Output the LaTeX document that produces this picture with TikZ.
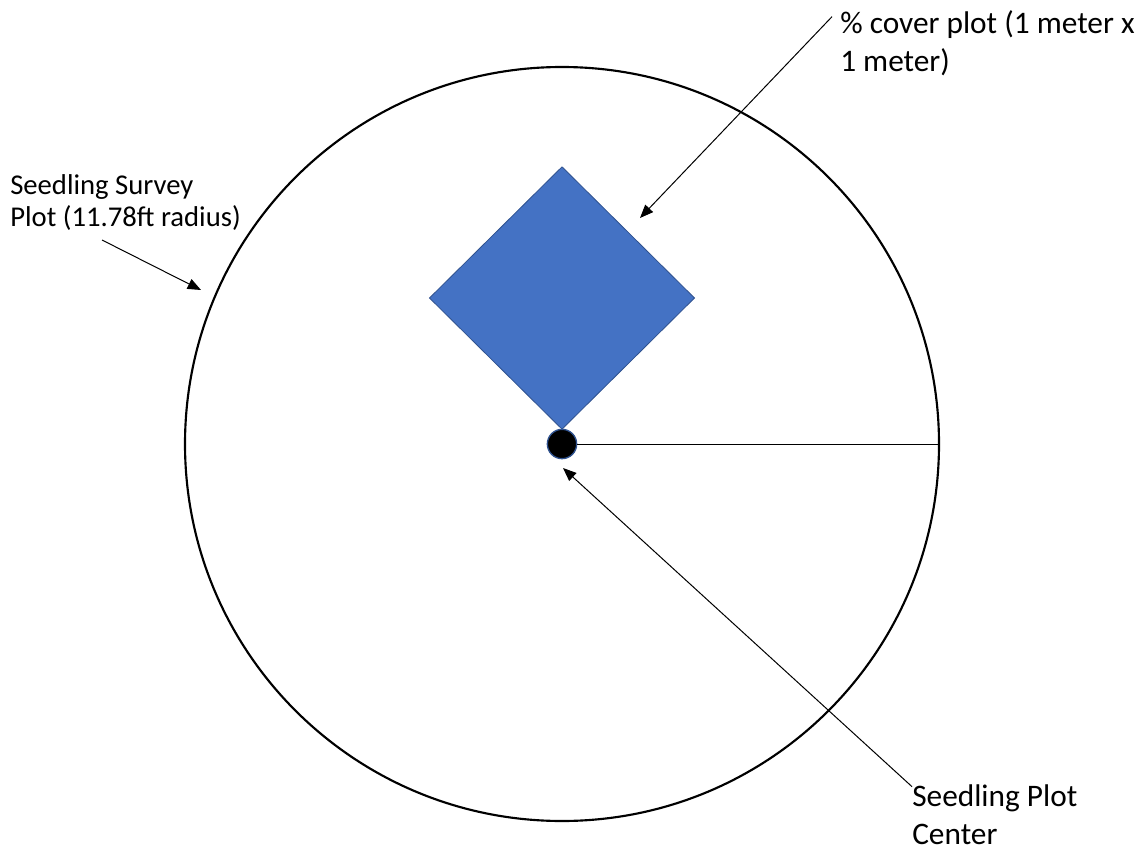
\documentclass[tikz,border=0pt]{standalone}
\usepackage{fontspec}
\setmainfont{Carlito}
\usetikzlibrary{arrows.meta,shapes.geometric}
\definecolor{plotblue}{HTML}{4472C4}
\definecolor{plotedge}{HTML}{2F528F}
\tikzset{
  lbl/.style={anchor=north west, inner sep=0pt, align=left, font=\fontsize{23.5}{28.5}\selectfont},
  pointer/.style={line width=0.75pt, -{Triangle[length=10pt,width=8pt]}}
}
\begin{document}
\begin{tikzpicture}[x=0.75pt,y=-0.75pt]
\useasboundingbox (0,0) rectangle (1144,852);
% plots
\node[circle, draw, line width=1.6pt, minimum size=565.5pt, inner sep=0pt] (survey) at (562,444) {};
\node[diamond, fill=plotblue, draw=plotedge, line width=0.6pt, minimum width=199pt, minimum height=197pt, inner sep=0pt] (quad) at (562,298) {};
\node[circle, fill=black, draw=plotedge, line width=1pt, minimum size=22pt, inner sep=0pt] (ctr) at (562,444) {};
\draw[line width=0.75pt] (ctr.east) -- (survey.east);

% labels
\node[lbl] (cover) at (840,10) {\% cover plot (1 meter x\\1 meter)};
\node[lbl, font=\fontsize{21.5}{24}\selectfont] (surveylbl) at (10,174) {Seedling Survey\\Plot (11.78ft radius)};
\node[lbl] (ctrlbl) at (912,784) {Seedling Plot\\Center};

% pointers
\coordinate (coverTip) at (640,218);
\coordinate (surveyTail) at (102,240);
\coordinate (surveyTip) at (201,290);
\coordinate (ctrTip) at (563,468);
\draw[pointer] ([shift={(-6pt,-5pt)}]cover.north west) -- (coverTip);
\draw[pointer] (surveyTail) -- (surveyTip);
\draw[pointer] ([yshift=-2pt]ctrlbl.north west) -- (ctrTip);
\end{tikzpicture}
\end{document}
